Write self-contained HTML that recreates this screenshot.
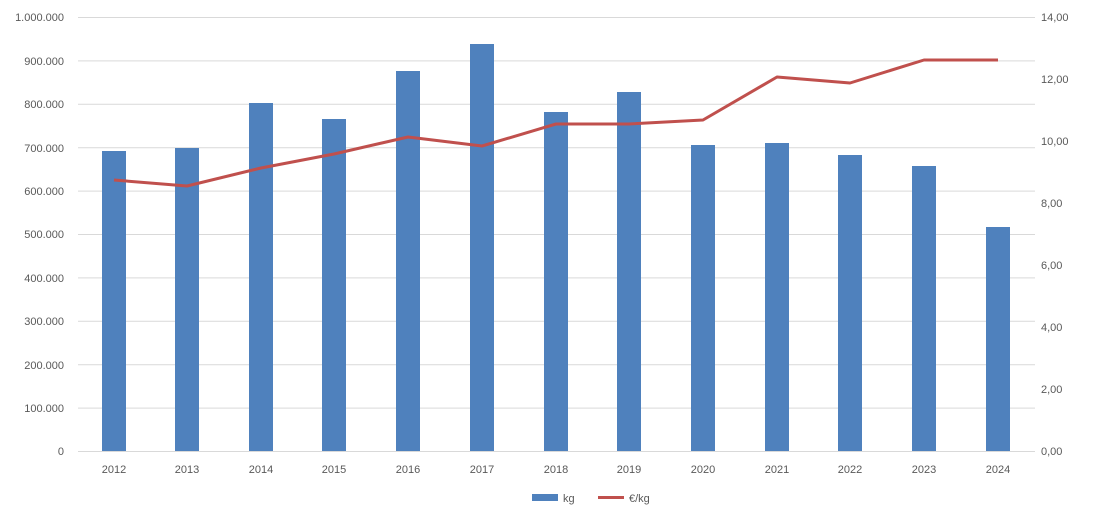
<!DOCTYPE html>
<html><head><meta charset="utf-8"><style>
body{margin:0;background:#fff}
svg text{font-family:"Liberation Sans",sans-serif;font-size:11px;fill:#595959}
</style></head><body>
<svg width="1117" height="520" xmlns="http://www.w3.org/2000/svg">
<g stroke="#d9d9d9" stroke-width="1">
<line x1="78" x2="1035" y1="17.5" y2="17.5"/><line x1="78" x2="1035" y1="60.9" y2="60.9"/>
<line x1="78" x2="1035" y1="104.3" y2="104.3"/><line x1="78" x2="1035" y1="147.7" y2="147.7"/>
<line x1="78" x2="1035" y1="191.1" y2="191.1"/><line x1="78" x2="1035" y1="234.5" y2="234.5"/>
<line x1="78" x2="1035" y1="277.9" y2="277.9"/><line x1="78" x2="1035" y1="321.3" y2="321.3"/>
<line x1="78" x2="1035" y1="364.7" y2="364.7"/><line x1="78" x2="1035" y1="408.1" y2="408.1"/>
<line x1="78" x2="1035" y1="451.5" y2="451.5"/>
</g>
<g text-anchor="end">
<text x="64" y="21">1.000.000</text><text x="64" y="65">900.000</text><text x="64" y="108">800.000</text>
<text x="64" y="152">700.000</text><text x="64" y="195">600.000</text><text x="64" y="238">500.000</text>
<text x="64" y="282">400.000</text><text x="64" y="325">300.000</text><text x="64" y="369">200.000</text>
<text x="64" y="412">100.000</text><text x="64" y="455">0</text>
</g>
<g>
<text x="1041" y="21">14,00</text><text x="1041" y="83">12,00</text><text x="1041" y="145">10,00</text>
<text x="1041" y="207">8,00</text><text x="1041" y="269">6,00</text><text x="1041" y="331">4,00</text>
<text x="1041" y="393">2,00</text><text x="1041" y="455">0,00</text>
</g>
<g fill="#4f81bd">
<rect x="102" y="151" width="24" height="300"/>
<rect x="175" y="148" width="24" height="303"/>
<rect x="249" y="103" width="24" height="348"/>
<rect x="322" y="119" width="24" height="332"/>
<rect x="396" y="71" width="24" height="380"/>
<rect x="470" y="44" width="24" height="407"/>
<rect x="544" y="112" width="24" height="339"/>
<rect x="617" y="92" width="24" height="359"/>
<rect x="691" y="145" width="24" height="306"/>
<rect x="765" y="143" width="24" height="308"/>
<rect x="838" y="155" width="24" height="296"/>
<rect x="912" y="166" width="24" height="285"/>
<rect x="986" y="227" width="24" height="224"/>
</g>
<polyline fill="none" stroke="#c0504d" stroke-width="3" stroke-linejoin="round" points="114,180 187,186 261,168 334,154 408,137 482,146 556,124 629,124 703,120 777,77 850,83 924,60 998,60"/>
<g text-anchor="middle">
<text x="114" y="473">2012</text><text x="187" y="473">2013</text><text x="261" y="473">2014</text>
<text x="334" y="473">2015</text><text x="408" y="473">2016</text><text x="482" y="473">2017</text>
<text x="556" y="473">2018</text><text x="629" y="473">2019</text><text x="703" y="473">2020</text>
<text x="777" y="473">2021</text><text x="850" y="473">2022</text><text x="924" y="473">2023</text>
<text x="998" y="473">2024</text>
</g>
<rect x="532" y="494" width="26" height="7" fill="#4f81bd"/>
<text x="563" y="502">kg</text>
<line x1="598" x2="624" y1="497.5" y2="497.5" stroke="#c0504d" stroke-width="3"/>
<text x="629" y="502">€/kg</text>
</svg>
</body></html>
